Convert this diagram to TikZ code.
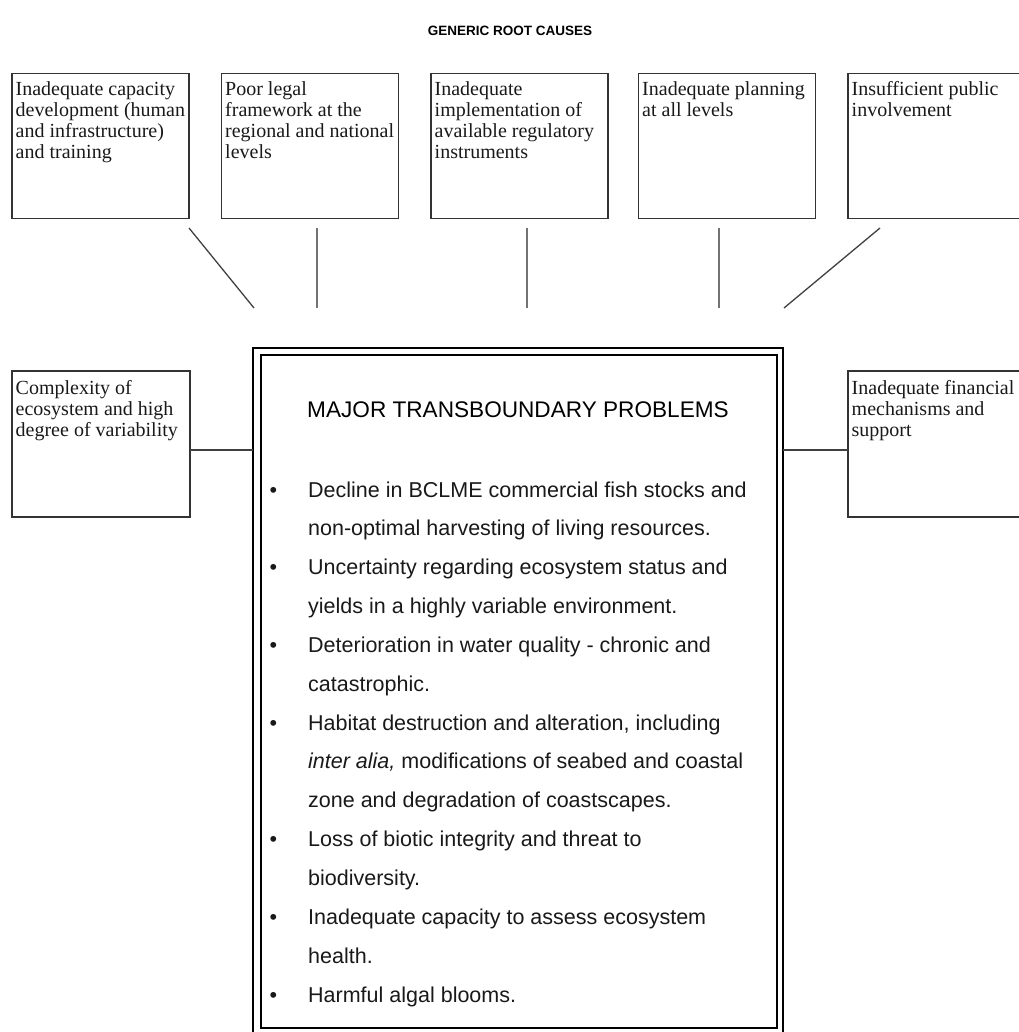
\documentclass[tikz,border=0pt]{standalone}
\usepackage{fontspec}
\setmainfont{Liberation Serif}
\newfontfamily\arialfont{Liberation Sans}
\newcommand\itembullet{\leavevmode\llap{\textbullet\hspace{31pt}}}
\begin{document}
\begin{tikzpicture}[x=1pt,y=-1pt,
  causebox/.style={draw=black!80, line width=1.2pt, minimum width=177pt,
    minimum height=145pt, anchor=north west, inner sep=0pt, outer sep=0pt},
  causetext/.style={anchor=base west, inner sep=0pt, text=black!90,
    font=\fontsize{20}{21}\selectfont},
  link/.style={draw=black!75, line width=1.3pt},
  frame/.style={draw=black, line width=2.2pt, anchor=north west,
    inner sep=0pt, outer sep=0pt}]
\useasboundingbox (0,0) rectangle (1018,1032);

% heading
\node[anchor=base, inner sep=0pt, font=\arialfont\bfseries\fontsize{13.5}{16}\selectfont]
  (gtitle) at (510,36) {GENERIC ROOT CAUSES};

% root cause boxes along the top
\node[causebox] (b1) at (12,73.5) {};
\node[causebox] (b2) at (221.5,73.5) {};
\node[causebox] (b3) at (431,73.5) {};
\node[causebox] (b4) at (638.5,73.5) {};
\node[causebox] (b5) at (848,73.5) {};

\node[causetext] (t1) at ([shift={(3.5,22)}]b1.north west)
  {\parbox[t]{176pt}{\raggedright Inadequate capacity\\development (human\\and infrastructure)\\and training}};
\node[causetext] (t2) at ([shift={(3.5,22)}]b2.north west)
  {\parbox[t]{176pt}{\raggedright Poor legal\\framework at the\\regional and national\\levels}};
\node[causetext] (t3) at ([shift={(3.5,22)}]b3.north west)
  {\parbox[t]{176pt}{\raggedright Inadequate\\implementation of\\available regulatory\\instruments}};
\node[causetext] (t4) at ([shift={(3.5,22)}]b4.north west)
  {\parbox[t]{176pt}{\raggedright Inadequate planning\\at all levels}};
\node[causetext] (t5) at ([shift={(3.5,22)}]b5.north west)
  {\parbox[t]{176pt}{\raggedright Insufficient public\\involvement}};

% side boxes
\node[causebox, minimum width=178pt, minimum height=146pt] (lbox) at (12,371) {};
\node[causebox, minimum width=178pt, minimum height=146pt] (rbox) at (848,371) {};
\node[causetext] (lt) at ([shift={(3.5,23)}]lbox.north west)
  {\parbox[t]{176pt}{\raggedright Complexity of\\ecosystem and high\\degree of variability}};
\node[causetext] (rt) at ([shift={(3.5,23)}]rbox.north west)
  {\parbox[t]{176pt}{\raggedright Inadequate financial\\mechanisms and\\support}};

% central double frame
\node[frame, minimum width=530pt, minimum height=700pt] (outer) at (253,348) {};
\node[frame, minimum width=516pt, minimum height=673pt] (inner) at (261,355) {};

\node[anchor=base, inner sep=0pt, font=\arialfont\fontsize{22.6}{26}\selectfont]
  (ptitle) at (518,417) {MAJOR TRANSBOUNDARY PROBLEMS};

\node[anchor=base west, inner sep=0pt, text=black!90,
  font=\arialfont\fontsize{21.5}{38.85}\selectfont] (items) at (308,497)
  {\parbox[t]{470pt}{\raggedright
   \itembullet Decline in BCLME commercial fish stocks and\\
   non-optimal harvesting of living resources.\\
   \itembullet Uncertainty regarding ecosystem status and\\
   yields in a highly variable environment.\\
   \itembullet Deterioration in water quality - chronic and\\
   catastrophic.\\
   \itembullet Habitat destruction and alteration, including\\
   \textit{inter alia,} modifications of seabed and coastal\\
   zone and degradation of coastscapes.\\
   \itembullet Loss of biotic integrity and threat to\\
   biodiversity.\\
   \itembullet Inadequate capacity to assess ecosystem\\
   health.\\
   \itembullet Harmful algal blooms.}};

% connector ends left open between the boxes and the frame
\coordinate (l1a) at (189,228); \coordinate (l1b) at (254,308);
\coordinate (l2a) at (317,228); \coordinate (l2b) at (317,308);
\coordinate (l3a) at (527,228); \coordinate (l3b) at (527,308);
\coordinate (l4a) at (719,228); \coordinate (l4b) at (719,308);
\coordinate (l5a) at (880,228); \coordinate (l5b) at (784,308);
\draw[link] (l1a) -- (l1b);
\draw[link, draw=black!55] (l2a) -- (l2b);
\draw[link, draw=black!55] (l3a) -- (l3b);
\draw[link, draw=black!55] (l4a) -- (l4b);
\draw[link] (l5a) -- (l5b);

% side links into the frame
\coordinate (sidey) at (0,450);
\draw[link] (lbox.east |- sidey) -- (outer.west |- sidey);
\draw[link] (outer.east |- sidey) -- (rbox.west |- sidey);
\end{tikzpicture}
\end{document}
